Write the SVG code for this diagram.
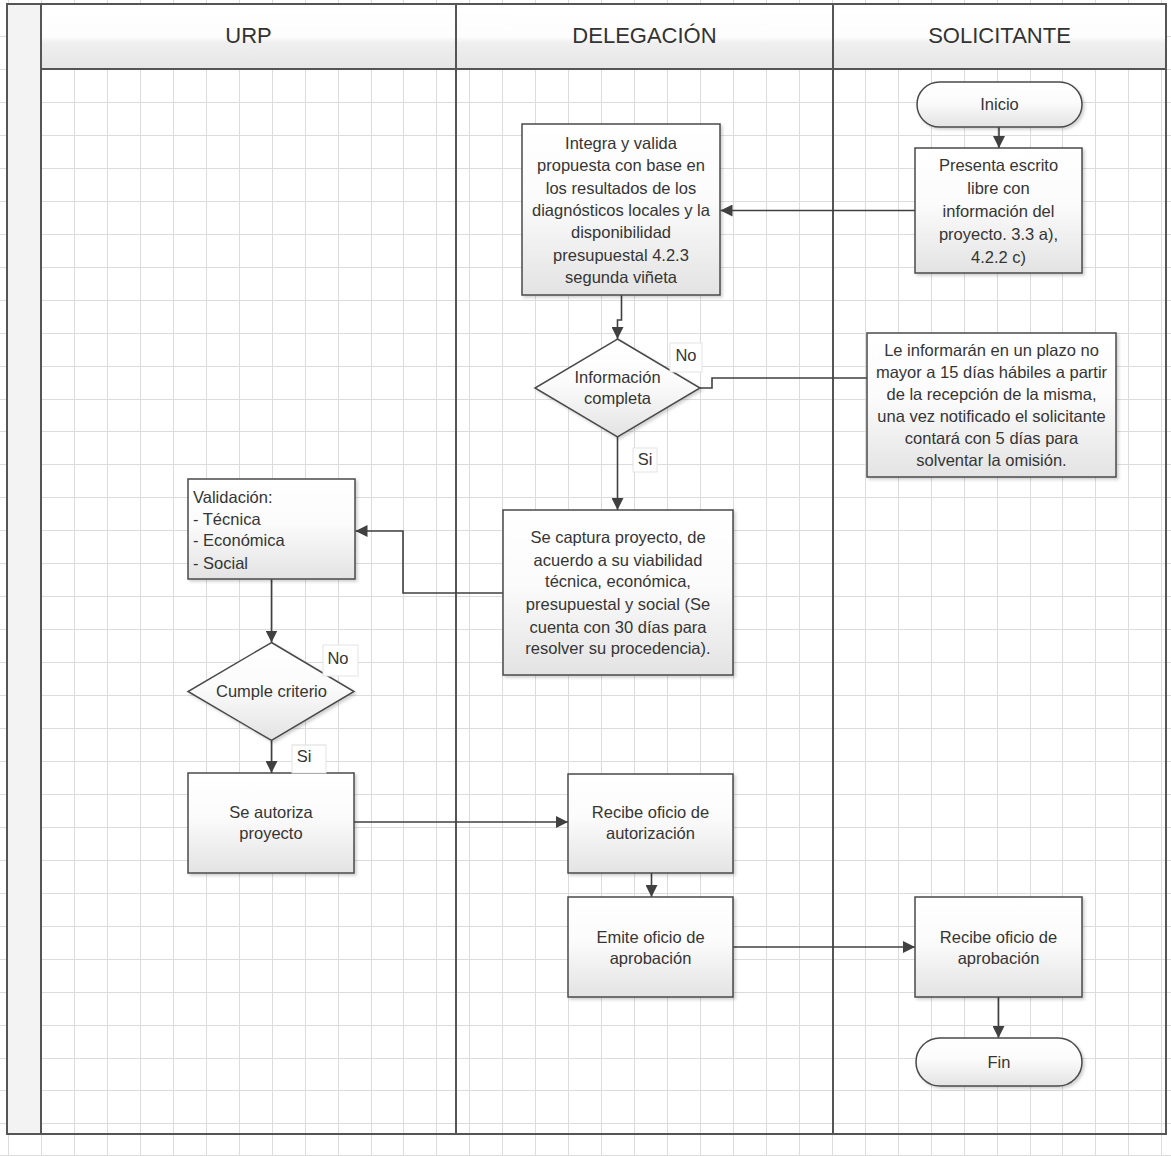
<svg xmlns="http://www.w3.org/2000/svg" width="1171" height="1156" viewBox="0 0 1171 1156">
<style>
.grid{stroke:#dcdcdc;stroke-width:1;fill:none}
.frame{stroke:#555;stroke-width:2;fill:none}
.node{stroke:#4a4a4a;stroke-width:1.5;fill:url(#nodeGrad);filter:url(#shadow)}
.t{font-family:"Liberation Sans",Arial,sans-serif;font-size:16.5px;fill:#353535;text-anchor:middle}
.tl{font-family:"Liberation Sans",Arial,sans-serif;font-size:16.5px;fill:#353535;text-anchor:start}
.hdr{font-family:"Liberation Sans",Arial,sans-serif;font-size:22px;fill:#333;text-anchor:middle}
.conn{stroke:#404040;stroke-width:1.6;fill:none}
.lbl{fill:#fff;stroke:#e4e4e4;stroke-width:1}
</style>
<defs>
<linearGradient id="nodeGrad" x1="0" y1="0" x2="0" y2="1">
<stop offset="0" stop-color="#ffffff"/>
<stop offset="0.45" stop-color="#fbfbfb"/>
<stop offset="1" stop-color="#e3e3e3"/>
</linearGradient>
<linearGradient id="hdrGrad" x1="0" y1="0" x2="0" y2="1">
<stop offset="0" stop-color="#ffffff"/>
<stop offset="0.5" stop-color="#fdfdfd"/>
<stop offset="0.6" stop-color="#efefef"/>
<stop offset="1" stop-color="#e6e6e6"/>
</linearGradient>
<filter id="shadow" x="-10%" y="-10%" width="130%" height="130%">
<feDropShadow dx="2" dy="2" stdDeviation="1.5" flood-color="#000" flood-opacity="0.18"/>
</filter>
<marker id="arr" markerWidth="13" markerHeight="12" refX="12" refY="6" orient="auto" markerUnits="userSpaceOnUse">
<path d="M0,0 L12,6 L0,12 z" fill="#404040"/>
</marker>
</defs>

<rect x="0" y="0" width="1171" height="1156" fill="#ffffff"/>

<g id="grid" class="grid">
<path d="M8.5,0V1156M41.5,0V1156M74.5,0V1156M107.5,0V1156M140.5,0V1156M173.5,0V1156M206.5,0V1156M239.5,0V1156M272.5,0V1156M305.5,0V1156M338.5,0V1156M371.5,0V1156M403.5,0V1156M436.5,0V1156M469.5,0V1156M502.5,0V1156M535.5,0V1156M568.5,0V1156M601.5,0V1156M634.5,0V1156M667.5,0V1156M700.5,0V1156M733.5,0V1156M766.5,0V1156M799.5,0V1156M832.5,0V1156M865.5,0V1156M898.5,0V1156M931.5,0V1156M964.5,0V1156M997.5,0V1156M1030.5,0V1156M1062.5,0V1156M1095.5,0V1156M1128.5,0V1156M1161.5,0V1156"/>
<path d="M0,36.5H1171M0,69.5H1171M0,102.5H1171M0,135.5H1171M0,168.5H1171M0,201.5H1171M0,234.5H1171M0,267.5H1171M0,300.5H1171M0,333.5H1171M0,366.5H1171M0,399.5H1171M0,431.5H1171M0,464.5H1171M0,497.5H1171M0,530.5H1171M0,563.5H1171M0,596.5H1171M0,629.5H1171M0,662.5H1171M0,695.5H1171M0,728.5H1171M0,761.5H1171M0,794.5H1171M0,827.5H1171M0,860.5H1171M0,893.5H1171M0,926.5H1171M0,959.5H1171M0,992.5H1171M0,1025.5H1171M0,1058.5H1171M0,1090.5H1171M0,1123.5H1171M0,1155.5H1171"/>
</g>

<g id="pool">
<rect x="7" y="4" width="34" height="1130" fill="#f3f3f3"/>
<rect x="41" y="4" width="1125" height="65" fill="url(#hdrGrad)"/>
<rect x="7" y="4" width="1159" height="1130" class="frame"/>
<line x1="41" y1="4" x2="41" y2="1134" class="frame"/>
<line x1="456" y1="4" x2="456" y2="1134" class="frame"/>
<line x1="833" y1="4" x2="833" y2="1134" class="frame"/>
<line x1="41" y1="69" x2="1166" y2="69" class="frame"/>
<text class="hdr" x="248.5" y="43">URP</text>
<text class="hdr" x="644.5" y="43">DELEGACIÓN</text>
<text class="hdr" x="999.5" y="43">SOLICITANTE</text>
</g>

<g id="connectors">
<path class="conn" d="M999,127V148" marker-end="url(#arr)"/>
<path class="conn" d="M915,210.5H720.5" marker-end="url(#arr)"/>
<path class="conn" d="M621.5,295V320H617.5V339" marker-end="url(#arr)"/>
<path class="conn" d="M700,388H712V378H867"/>
<path class="conn" d="M617.5,437V510" marker-end="url(#arr)"/>
<path class="conn" d="M503,593H403V531H355.5" marker-end="url(#arr)"/>
<path class="conn" d="M271.5,579V642.5" marker-end="url(#arr)"/>
<path class="conn" d="M271.5,741V773" marker-end="url(#arr)"/>
<path class="conn" d="M354,822H568" marker-end="url(#arr)"/>
<path class="conn" d="M651.5,873V897" marker-end="url(#arr)"/>
<path class="conn" d="M733,947H915" marker-end="url(#arr)"/>
<path class="conn" d="M998.5,997V1038" marker-end="url(#arr)"/>
</g>

<g id="n-inicio">
<rect class="node" x="917" y="82" width="165" height="45" rx="22.5" ry="22.5"/>
<text class="t" x="999.5" y="110">Inicio</text>
</g>

<g id="n-presenta">
<rect class="node" x="915" y="148" width="167" height="125"/>
<text class="t" x="998.5" y="171">Presenta escrito</text>
<text class="t" x="998.5" y="194">libre con</text>
<text class="t" x="998.5" y="217">información del</text>
<text class="t" x="998.5" y="240">proyecto. 3.3 a),</text>
<text class="t" x="998.5" y="263">4.2.2 c)</text>
</g>

<g id="n-integra">
<rect class="node" x="522" y="124" width="198" height="171"/>
<text class="t" x="621" y="149">Integra y valida</text>
<text class="t" x="621" y="171">propuesta con base en</text>
<text class="t" x="621" y="193.5">los resultados de los</text>
<text class="t" x="621" y="216">diagnósticos locales y la</text>
<text class="t" x="621" y="238">disponibilidad</text>
<text class="t" x="621" y="260.5">presupuestal 4.2.3</text>
<text class="t" x="621" y="283">segunda viñeta</text>
</g>

<g id="n-infocompleta">
<polygon class="node" points="617.5,339 700,388 617.5,437 535,388"/>
<text class="t" x="617.5" y="383">Información</text>
<text class="t" x="617.5" y="404">completa</text>
<rect class="lbl" x="670" y="343" width="32" height="29"/>
<text class="t" x="686" y="361">No</text>
<rect class="lbl" x="633" y="448" width="24" height="24"/>
<text class="t" x="645" y="465">Si</text>
</g>

<g id="n-leinformaran">
<rect class="node" x="867" y="333" width="249" height="144"/>
<text class="t" x="991.5" y="356">Le informarán en un plazo no</text>
<text class="t" x="991.5" y="378">mayor a 15 días hábiles a partir</text>
<text class="t" x="991.5" y="399.5">de la recepción de la misma,</text>
<text class="t" x="991.5" y="421.5">una vez notificado el solicitante</text>
<text class="t" x="991.5" y="444">contará con 5 días para</text>
<text class="t" x="991.5" y="466">solventar la omisión.</text>
</g>

<g id="n-captura">
<rect class="node" x="503" y="510" width="230" height="165"/>
<text class="t" x="618" y="543">Se captura proyecto, de</text>
<text class="t" x="618" y="565.5">acuerdo a su viabilidad</text>
<text class="t" x="618" y="587">técnica, económica,</text>
<text class="t" x="618" y="610">presupuestal y social (Se</text>
<text class="t" x="618" y="632.5">cuenta con 30 días para</text>
<text class="t" x="618" y="654">resolver su procedencia).</text>
</g>

<g id="n-validacion">
<rect class="node" x="188" y="479" width="167" height="100"/>
<text class="tl" x="193" y="503">Validación:</text>
<text class="tl" x="193" y="524.5">- Técnica</text>
<text class="tl" x="193" y="546">- Económica</text>
<text class="tl" x="193" y="569">- Social</text>
</g>

<g id="n-cumple">
<polygon class="node" points="271.5,642.5 354,691.5 271.5,740.5 188,691.5"/>
<text class="t" x="271.5" y="697">Cumple criterio</text>
<rect class="lbl" x="323" y="645" width="35" height="31"/>
<text class="t" x="338" y="664">No</text>
</g>

<g id="n-autoriza">
<rect class="node" x="188" y="773" width="166" height="100"/>
<text class="t" x="271" y="818">Se autoriza</text>
<text class="t" x="271" y="839">proyecto</text>
<rect class="lbl" x="292" y="745" width="34" height="28" stroke="none"/>
<line x1="292" y1="745" x2="326" y2="745" stroke="#e8e8e8" stroke-width="1"/>
<text class="t" x="304" y="762">Si</text>
</g>

<g id="n-recibe-autorizacion">
<rect class="node" x="568" y="774" width="165" height="99"/>
<text class="t" x="650.5" y="818">Recibe oficio de</text>
<text class="t" x="650.5" y="839">autorización</text>
</g>

<g id="n-emite">
<rect class="node" x="568" y="897" width="165" height="100"/>
<text class="t" x="650.5" y="943">Emite oficio de</text>
<text class="t" x="650.5" y="964">aprobación</text>
</g>

<g id="n-recibe-aprobacion">
<rect class="node" x="915" y="897" width="167" height="100"/>
<text class="t" x="998.5" y="943">Recibe oficio de</text>
<text class="t" x="998.5" y="964">aprobación</text>
</g>

<g id="n-fin">
<rect class="node" x="916" y="1038" width="166" height="48" rx="24" ry="24"/>
<text class="t" x="999" y="1068">Fin</text>
</g>
</svg>
